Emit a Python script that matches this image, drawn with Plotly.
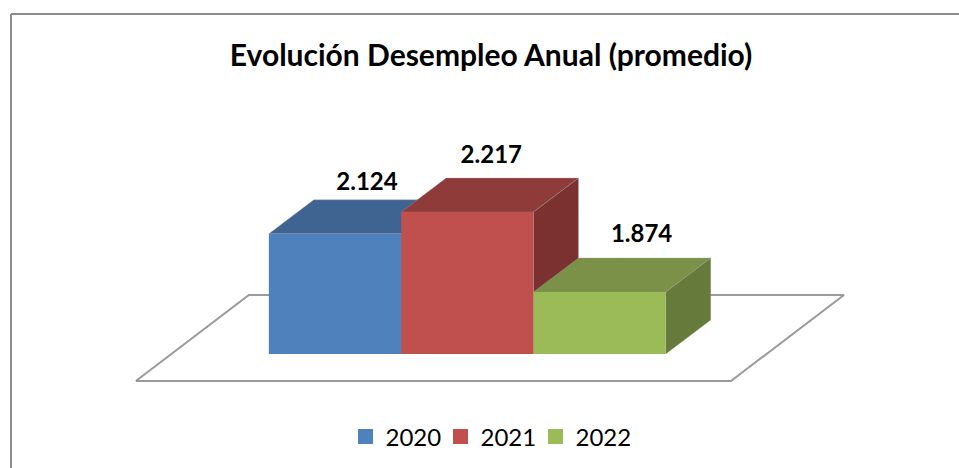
import plotly.graph_objects as go

# ---- data ----
years = ["2020", "2021", "2022"]
values = [2.124, 2.217, 1.874]
value_labels = ["2.124", "2.217", "1.874"]
title_text = "Evolución Desempleo Anual (promedio)"

# ---- styles ----
front_colors = ["#4F81BD", "#C0504D", "#9BBB59"]
top_colors = ["#3F6491", "#8F3B3A", "#7A9147"]
side_colors = ["#34537A", "#7A3130", "#667B3B"]
edge = "rgba(160,160,160,0.35)"
W, H = 959, 468
FONT = "Lato"

# ---- scales: pixel size of one axis unit ----
PX_PER_CAT = 132.3
PX_PER_VAL = 233.0
X0_PX = 335.0          # pixel of category 0 centre
BASE_VAL = 1.608       # truncated axis minimum
BASE_PX = 354.0        # pixel of the axis minimum
DEPTH_X = 45 / PX_PER_CAT
DEPTH_Y = 34 / PX_PER_VAL
HALF = 0.5

x_range = [-X0_PX / PX_PER_CAT, (W - X0_PX) / PX_PER_CAT]
y_range = [BASE_VAL - (H - BASE_PX) / PX_PER_VAL, BASE_VAL + BASE_PX / PX_PER_VAL]

fig = go.Figure()


def poly(xs, ys, color, line=None, width=0):
    fig.add_trace(go.Scatter(
        x=xs + xs[:1], y=ys + ys[:1], mode="lines", fill="toself", fillcolor=color,
        line=dict(color=line or color, width=width if line else 0),
        showlegend=False, hoverinfo="skip"))


# floor plane
fl_l, fl_r = -1.505, 2.993
fl_front = BASE_VAL - 27 / PX_PER_VAL
fl_depth_x, fl_depth_y = 113 / PX_PER_CAT, 86 / PX_PER_VAL
poly([fl_l, fl_r, fl_r + fl_depth_x, fl_l + fl_depth_x],
     [fl_front, fl_front, fl_front + fl_depth_y, fl_front + fl_depth_y],
     "white", line="#9a9a9a", width=2)

# 3-D columns, drawn left to right so that later columns overlap earlier ones
for i, (v, f, t, s) in enumerate(zip(values, front_colors, top_colors, side_colors)):
    l, r = i - HALF, i + HALF
    poly([l, r, r + DEPTH_X, l + DEPTH_X], [v, v, v + DEPTH_Y, v + DEPTH_Y], t, line=edge, width=1)
    poly([r, r + DEPTH_X, r + DEPTH_X, r],
         [BASE_VAL, BASE_VAL + DEPTH_Y, v + DEPTH_Y, v], s, line=edge, width=1)
    poly([l, r, r, l], [BASE_VAL, BASE_VAL, v, v], f)

# value labels, centred above the back of each column
label_dx = [32 / PX_PER_CAT, 24 / PX_PER_CAT, 42 / PX_PER_CAT]
label_dy = [50 / PX_PER_VAL, 55 / PX_PER_VAL, 56 / PX_PER_VAL]
fig.add_trace(go.Scatter(
    x=[i + dx for i, dx in enumerate(label_dx)],
    y=[v + dy for v, dy in zip(values, label_dy)],
    text=value_labels, mode="text", textposition="middle center",
    textfont=dict(family=FONT, size=24, color="#000000", weight="bold"),
    showlegend=False, hoverinfo="skip"))

# legend entries
for y, c in zip(years, front_colors):
    fig.add_trace(go.Scatter(
        x=[None], y=[None], mode="markers", name=y,
        marker=dict(symbol="square", size=15, color=c)))

fig.update_layout(
    width=W, height=H, margin=dict(l=0, r=0, t=0, b=0), autosize=False,
    paper_bgcolor="white", plot_bgcolor="white",
    xaxis=dict(range=x_range, visible=False, fixedrange=True),
    yaxis=dict(range=y_range, visible=False, fixedrange=True),
    title=dict(text=title_text, x=491 / W, xanchor="center", y=1 - 55 / H, yanchor="middle",
               font=dict(family=FONT, size=30, color="#000000", weight="bold")),
    legend=dict(orientation="h", x=488 / W, xanchor="center", y=1 - 437 / H, yanchor="middle",
                font=dict(family=FONT, size=24, color="#000000"),
                itemwidth=30, entrywidth=50, entrywidthmode="pixels",
                bgcolor="rgba(0,0,0,0)"),
    shapes=[dict(type="line", xref="paper", yref="paper", x0=11 / W, x1=1, y0=1 - 14 / H, y1=1 - 14 / H,
                 line=dict(color="#8c8c8c", width=2)),
            dict(type="line", xref="paper", yref="paper", x0=11 / W, x1=11 / W, y0=0, y1=1 - 14 / H,
                 line=dict(color="#8c8c8c", width=2))],
)

fig.write_html("out.html", config=dict(displayModeBar=False),
               post_script="document.body.style.margin='0';document.body.style.overflow='hidden';")
